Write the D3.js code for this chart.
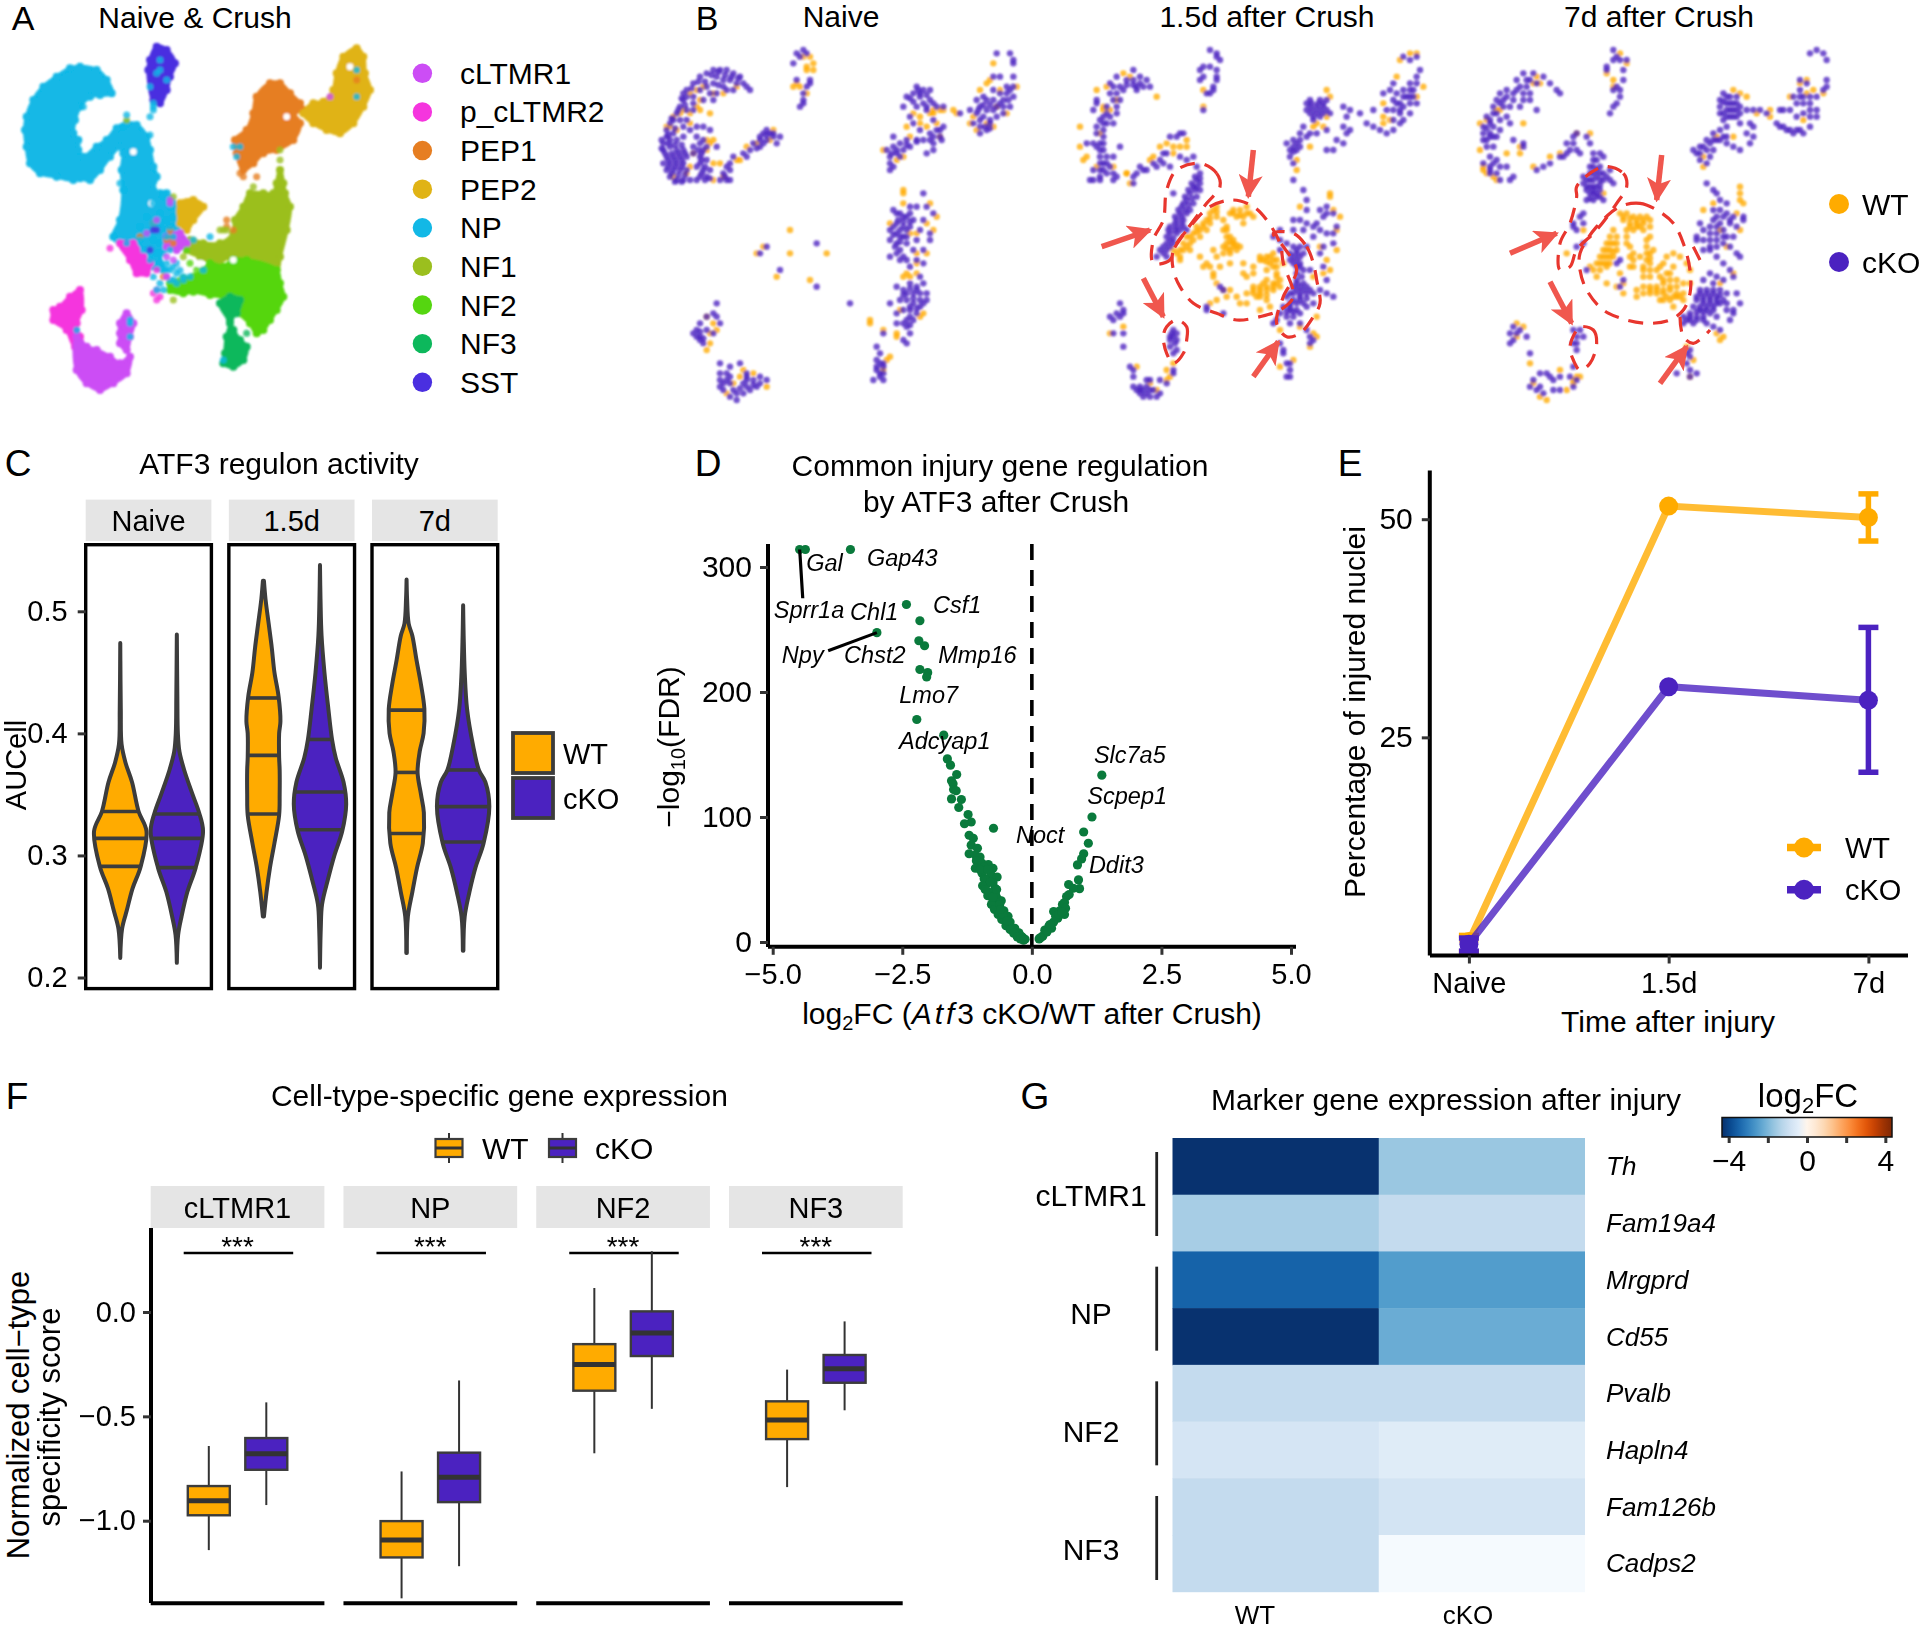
<!DOCTYPE html>
<html>
<head>
<meta charset="utf-8">
<script src="https://cdn.jsdelivr.net/npm/d3@7"></script>
<style>
body { margin: 0; background: #fff; }
text { font-family: "Liberation Sans", Arial, sans-serif; fill: #000; }
</style>
</head>
<body>
<script>
var wtColor = "#FFAB00";
var koColor = "#4B22C0";
var groups = ["WT", "cKO"];

// panel A (embedding units)
var cellTypes = ["cLTMR1", "p_cLTMR2", "PEP1", "PEP2", "NP", "NF1", "NF2", "NF3", "SST"];
var cellColors = ["#CC4DF5", "#F535DE", "#E67E22", "#E0B315", "#12B8E6", "#9BBF1E", "#55D610", "#0DB85C", "#4A2FE0"];
var outlineNP = [[21,11],[26,12],[29,15],[30.5,19],[27,19.5],[24,20],[21,23],[19.5,27],[19,31],[20.5,33],[20.5,36],[22,38],[26,35],[29,33],[32,29.5],[35,28],[38,28.5],[41,32],[42,36],[43,41],[44,44],[43,48],[45,49],[47,49],[50,53],[50,60],[48,65],[45,67],[46,72],[43,71],[41,66],[38,65],[34,65],[31,62],[33,57],[34,48],[33.5,42],[34,37],[33,35],[30,38],[27,42],[24,45],[21,44.5],[19,45],[14,44],[9,43],[6,40],[5,35],[4.5,30],[5,26],[7,21],[10,17],[14,14],[18,11.5]];
var outlineNF1 = [[70,53],[72,49],[76,49],[79,49],[80,46],[81,42],[82,46],[82.5,49],[84,53],[83,60],[81,68],[80,72],[72,69],[66,68],[62,70],[57,68],[53,66],[54,63],[58,64],[63,64],[67,61],[67.5,57]];
var outlineNF2 = [[80,72],[81,76],[82,80],[80,84],[78,87],[76,90],[74,91],[72,88],[69,85],[68,81],[64,80],[60,79.5],[55,78.5],[52,79],[48,78],[48,76],[52,74.5],[55,74],[58,72],[60,70],[64,71],[67,69],[71,69]];
var outlineNF3 = [[63,82],[66,80],[69,81],[68,85],[66,87],[67,90],[69,93],[71,95],[70,99],[67,101],[64,100],[64.5,97],[65,92],[66,88]];
var outlinePEP1 = [[78,16],[81,16],[84,19],[87,22],[88,24],[85,25],[87,28],[85,33],[80,36],[76,37],[73,40],[70,42],[68,37],[67.5,33],[71,30],[73,25],[74,20]];
var outlinePEP2 = [[104,5.5],[106,8],[106.5,13],[108,18],[106,23],[103,28],[99,31],[95,30],[91,28],[88,25],[91,22],[94,21.5],[97,18],[98,13],[100,8]];
var outlinePEP2b = [[51,52],[55,51],[58,53],[55,57],[53,60],[51,58]];
var outlineSST = [[44,5],[47,6],[49.5,10],[48,14],[47,18],[45,22],[43,21],[41.5,12],[42,9]];
var outlineP2a = [[21,78],[21.5,84],[20,88],[21,92],[22,95],[19.5,95],[17,90],[13,87],[13,84],[15,83],[18,80]];
var outlineP2b = [[33,64],[37,64],[40,68],[42,70],[41,73],[38,73],[36,69]];
var outlineC1a = [[20,92],[23,95],[26,96],[30,98],[33,100],[36,98],[35,103],[31,106],[27,108],[23,106],[20,102]];
var outlineC1b = [[33,88],[35,85],[37,88],[36,92],[35,96],[33,94],[33,91]];
var outlineC1c = [[47,62],[51,61],[53,64],[50,66],[47,65]];
var umapGaps = [[102,11],[83,26],[42.5,52],[57,70],[51,71],[67,69],[37,36.5]];
var straysNP = [[35,25.5],[34,29],[42,31.5],[42,26],[43,24],[42,17],[43,22],[43,23],[22,23],[33,46],[34,48],[43,52],[46,49],[46,50],[48,53],[45,55],[47,57],[49,56],[41,56],[43,58],[45,58],[39,59],[41,61],[43,60],[46,60],[48,59],[39,63],[43,63],[45,64],[47,62],[49,62],[40,66],[44,67],[46,67],[48,66],[42,69],[45,70],[47,70],[48,72],[50,73],[52,74],[54,74],[52,75],[48,75],[50,70],[44,78],[46,78],[45,76],[55,63],[60,62],[35,64],[31,62],[36,87],[20,90],[67,35],[69,35],[68,38],[36,88],[36,92],[64,99],[43,74],[50,76],[58,72],[44,13],[45,12],[47,15],[45,9],[104,12],[104,20],[49,75],[51,72],[47,72],[49,71]];
var straysP2 = [[30,65.5],[44,78],[45,80],[44,81],[43,79],[44,72],[40,72],[47,74]];
var straysC1 = [[48,51],[48,52],[47,68],[49,69],[44,57],[41,61],[47,74],[96,20]];
var straysPEP1 = [[39,62],[48,60],[48,62],[47,63],[49,64],[65,59],[67,60],[69,43],[70,44],[74,44],[65,57],[46,74],[43,58],[104,15]];
var straysNF1 = [[81,36],[81,39],[81,42],[73,47],[64,60],[65,60],[63,60],[55,63],[54,66],[52,68],[49,81],[35,27],[49,50]];
var straysNF2 = [[57,76],[53,77],[55,75],[60,76],[53,66],[54,70],[56,72]];
var straysNF3 = [[66,92],[71,91]];
var straysSST = [[43,60],[42,66],[44,60]];

// panel B, three conditions
var naiveWT = [[16,17],[14,18],[15,21],[19,19],[26,17],[22,19],[12,19],[9,25],[7,26],[10,24],[12,25],[6,29],[5,29],[8,30],[12,28],[17,33],[18,34],[19,33],[17,36],[13,37],[11,43],[12,41],[7,44],[19,40],[21,40],[26,39],[27,39],[29,35],[32,34],[37,30],[22,44],[19,45],[36,33],[15,24],[18,25],[14,23],[47,11],[49,10],[47,12],[49,12],[48,8],[45,17],[43,17],[47,19],[44,16],[46,8],[103,10],[102,15],[101,16],[99,18],[105,18],[110,17],[104,23],[107,25],[97,26],[96,28],[98,30],[101,28],[103,29],[91,24],[92,25],[88,24],[85,24],[79,25],[85,25],[87,24],[77,29],[81,28],[83,29],[86,28],[81,26],[87,32],[70,36],[76,38],[74,39],[78,32],[84,25],[76,49],[76,48],[76,52],[84,52],[86,56],[85,60],[72,58],[83,58],[80,61],[78,61],[83,67],[80,67],[80,70],[77,73],[78,74],[80,73],[76,74],[75,84],[82,85],[66,87],[66,88],[70,90],[74,91],[74,92],[81,86],[71,99],[72,98],[70,102],[42,60],[32,67],[42,67],[53,67],[38,74],[48,75],[34,65],[17,86],[19,88],[18,91],[18,94],[17,96],[20,90],[27,104],[25,106],[35,107],[23,109],[31,103],[28,102]];
var naiveKO = [[21,12],[23,12],[25,13],[27,14],[28,16],[29,17],[30,18],[19,12],[17,13],[15,14],[13,16],[11,18],[10,19],[20,14],[22,15],[24,15],[26,16],[22,17],[25,18],[19,16],[17,17],[18,19],[15,18],[13,20],[11,20],[10,21],[13,22],[16,21],[19,21],[20,19],[23,18],[9,23],[8,25],[7,27],[6,28],[5,30],[9,27],[11,24],[11,27],[13,24],[10,29],[7,31],[5,32],[4,34],[4,36],[6,33],[8,33],[10,32],[12,30],[14,29],[16,29],[18,30],[14,32],[15,34],[13,35],[16,33],[6,35],[8,36],[10,36],[5,38],[7,38],[9,38],[11,38],[4,40],[6,40],[8,40],[10,40],[5,42],[7,42],[9,42],[11,42],[6,44],[8,45],[10,45],[12,45],[14,41],[15,38],[13,37],[15,40],[16,42],[17,44],[15,44],[14,45],[18,42],[17,39],[16,36],[17,35],[20,35],[23,41],[24,40],[22,43],[21,45],[23,45],[24,45],[25,38],[28,37],[30,36],[31,34],[33,33],[34,31],[35,30],[36,31],[37,32],[39,32],[35,33],[38,34],[33,35],[29,38],[46,6],[45,8],[43,10],[44,7],[47,7],[48,15],[47,17],[48,16],[46,19],[46,21],[45,23],[46,22],[44,15],[104,7],[108,7],[109,9],[109,10],[103,14],[105,14],[109,14],[107,17],[109,17],[107,19],[105,19],[103,18],[100,20],[98,21],[101,21],[103,21],[105,22],[99,23],[101,24],[103,24],[106,23],[108,23],[100,26],[102,27],[104,26],[106,25],[96,24],[98,25],[97,28],[99,29],[101,30],[99,31],[102,28],[109,20],[93,25],[80,17],[82,18],[84,18],[79,19],[77,20],[81,20],[84,21],[85,22],[76,23],[82,22],[80,23],[83,24],[78,26],[88,23],[85,27],[79,28],[81,30],[84,31],[86,30],[88,29],[82,33],[80,33],[84,33],[87,32],[85,34],[83,37],[85,36],[77,33],[75,34],[73,35],[71,36],[72,38],[74,37],[76,36],[78,35],[73,32],[72,40],[73,41],[75,38],[72,42],[82,49],[73,54],[75,55],[78,53],[80,53],[83,53],[85,55],[77,56],[79,57],[82,57],[74,58],[76,59],[78,59],[72,60],[74,61],[76,62],[81,60],[84,61],[72,63],[74,64],[77,64],[80,63],[84,63],[75,66],[79,66],[82,66],[72,68],[75,69],[77,69],[80,69],[82,70],[78,71],[81,74],[78,76],[80,77],[82,76],[74,77],[76,78],[79,79],[81,79],[83,79],[75,81],[77,81],[79,82],[81,83],[83,81],[76,84],[78,84],[80,85],[77,87],[79,87],[77,89],[78,91],[76,93],[77,94],[72,82],[74,85],[74,88],[70,91],[68,95],[69,97],[68,99],[69,100],[70,101],[68,102],[70,103],[69,104],[67,105],[70,105],[35,65],[33,67],[50,64],[39,72],[50,77],[60,82],[20,82],[20,86],[17,86],[15,88],[14,90],[15,92],[17,90],[13,91],[16,94],[19,91],[15,93],[21,88],[19,85],[21,103],[21,105],[21,107],[23,103],[24,104],[22,108],[25,108],[28,106],[29,104],[31,105],[33,104],[35,105],[26,109],[28,109],[30,108],[32,107],[24,110],[26,111],[29,103],[22,106],[21,100],[24,101],[27,100]];
var naiveKOCore = [[18.5,13.5],[20.5,12.5],[22.5,13.5],[24.5,14],[26.5,14.5],[14.5,15.5],[12.5,17.5],[16.5,15.5],[20.5,16.5],[9.5,20.5],[10.5,22.5],[8.5,24],[6.5,26.5],[5.5,31.5],[7.5,29.5],[3.5,33],[3.5,35.5],[5.5,34],[7.5,34.5],[9.5,34.5],[4.5,37],[6.5,37],[8.5,37],[10.5,37],[5.5,39],[7.5,39],[9.5,39],[5.5,41],[7.5,41],[9.5,41],[6.5,43],[8.5,43.5],[10.5,43.5],[7.5,45.5],[9.5,45.5],[14.5,36],[15.5,37],[15.5,39],[16.5,41],[15.5,43],[16.5,45],[18,44.5],[33,32],[35,31.5],[37,31],[32,35.5],[34,34],[24,42],[22.5,44],[80.5,18],[83,19.5],[81,19],[78,20.5],[79,21.5],[83,23],[86,23],[74,36],[72.5,37],[77,34.5],[80,33.5],[85,32],[87,30],[87.5,33],[102,22.5],[104,23],[106,21],[108,18],[107.5,21],[100,22.5],[98.5,24],[99,27],[100.5,29],[102,29.5],[74,55],[76,56],[78,55],[74.5,57],[76,57.5],[78,57.5],[73,59],[75,60],[77,60],[73,61.5],[75,62],[77,62],[73.5,65],[75,63.5],[76,68],[74,67],[76,79.5],[78,77.5],[80,78],[79,80.5],[81,81],[78,83],[80,83.5],[82,82],[77,79],[78,86],[78,88.5],[76,88],[70,100],[68,101],[69,103],[15,90.5],[14,92],[16,92.5],[27,107.5],[29,107],[31,106.5],[33,106],[24,106],[23,105],[29,105]];
var crush15WT = [[11,18],[14,17],[19,13],[21,14],[29,20],[17,21],[15,24],[13,23],[6,29],[6,35],[8,38],[7,39],[12,31],[11,41],[16,41],[20,43],[21,46],[13,24],[30,35],[32,34],[34,35],[36,35],[38,35],[34,37],[38,33],[28,38],[20,43],[27,39],[43,18],[43,23],[47,53],[45,55],[46,54],[44,57],[47,56],[43,58],[45,58],[42,60],[44,60],[41,59],[40,61],[42,62],[38,62],[40,63],[37,64],[38,65],[36,66],[39,66],[35,67],[36,68],[36,69],[34,66],[52,54],[54,54],[55,56],[57,55],[51,55],[53,56],[56,53],[58,56],[55,58],[49,57],[50,59],[50,60],[49,60],[51,62],[52,63],[50,64],[52,64],[53,66],[51,66],[49,65],[54,65],[51,67],[46,66],[49,67],[42,68],[47,68],[48,71],[44,70],[43,71],[45,71],[46,73],[46,74],[51,70],[55,70],[58,71],[61,69],[55,73],[58,73],[56,74],[60,68],[62,68],[64,67],[63,70],[65,69],[67,70],[64,71],[65,73],[62,72],[66,75],[64,76],[62,75],[60,77],[58,78],[56,79],[58,79],[60,79],[62,78],[64,77],[66,77],[60,80],[62,81],[65,74],[47,76],[49,78],[51,78],[53,80],[50,80],[54,82],[60,84],[56,82],[47,81],[45,82],[63,83],[81,49],[81,50],[82,54],[84,56],[83,60],[83,66],[78,65],[80,69],[72,53],[76,74],[81,72],[79,73],[77,86],[72,89],[66,90],[102,9],[105,7],[107,7],[101,14],[107,20],[109,17],[97,26],[97,28],[99,27],[97,22],[80,18],[81,20],[80,26],[76,29],[77,28],[71,39],[71,42],[79,29],[75,35],[15,91],[19,89],[23,101],[32,102],[33,104],[32,105],[29,108],[34,100],[27,106],[70,99],[66,101],[76,91],[77,92],[75,95]];
var crush15WTCore = [[47,54.5],[45,56.5],[43,59],[41,60.5],[39,62],[39,64],[37,66],[52,55],[54,55.5],[56,55],[50,62],[51,63.5],[52,65],[53,64.5],[50,65.5],[62,69.5],[64,69],[63,68],[60,69],[65,71],[62,77],[60,78],[58,77],[64,78],[62,79.5],[65,76],[61,76],[59,80]];
var crush15KO = [[22,12],[24,14],[26,15],[27,17],[20,15],[17,14],[15,16],[16,17],[18,17],[22,15],[23,17],[25,17],[19,18],[17,19],[15,19],[23,18],[16,21],[18,21],[17,23],[14,23],[17,25],[15,26],[11,21],[11,22],[10,24],[12,27],[14,28],[16,28],[13,30],[11,29],[13,32],[10,34],[12,34],[8,34],[11,35],[13,36],[12,38],[14,38],[16,38],[13,40],[15,41],[10,42],[12,42],[14,43],[16,43],[17,44],[10,45],[12,45],[9,45],[16,45],[18,35],[22,44],[23,43],[25,42],[26,42],[24,41],[22,46],[28,40],[33,32],[35,32],[36,31],[37,31],[32,37],[31,37],[30,39],[36,38],[38,39],[40,38],[29,41],[31,40],[33,41],[45,6],[47,7],[47,8],[48,9],[43,11],[42,12],[43,14],[42,15],[45,11],[47,12],[47,15],[46,17],[46,18],[45,19],[43,24],[47,14],[44,19],[41,41],[42,43],[41,45],[42,46],[40,47],[42,48],[39,49],[41,50],[38,51],[40,52],[37,52],[39,54],[36,55],[38,55],[35,57],[37,57],[35,59],[37,59],[33,59],[33,61],[35,61],[38,60],[33,63],[31,65],[33,65],[31,67],[32,68],[29,68],[34,49],[48,77],[49,78],[44,83],[44,84],[49,85],[64,62],[66,63],[68,64],[70,65],[72,65],[69,67],[71,67],[73,67],[71,69],[72,71],[69,69],[71,73],[71,75],[73,72],[72,77],[70,77],[72,79],[74,79],[76,79],[69,79],[70,81],[72,81],[74,77],[78,78],[80,79],[82,80],[68,80],[67,83],[69,84],[71,84],[72,85],[66,85],[68,86],[70,86],[74,83],[76,82],[65,87],[69,83],[73,48],[74,51],[74,54],[78,54],[80,53],[82,55],[79,56],[83,59],[80,55],[70,57],[72,57],[74,58],[76,59],[78,60],[80,61],[82,61],[73,60],[77,58],[76,62],[82,64],[70,60],[74,65],[79,65],[75,72],[78,67],[79,71],[66,60],[66,66],[80,75],[74,90],[69,88],[72,88],[64,88],[103,8],[105,9],[107,8],[108,12],[107,14],[105,16],[107,16],[103,18],[105,18],[101,19],[99,18],[97,19],[100,21],[102,22],[104,20],[106,18],[98,24],[100,24],[102,25],[100,16],[100,27],[103,27],[105,25],[92,28],[94,29],[96,30],[98,31],[100,30],[102,28],[107,22],[74,22],[75,23],[77,23],[79,23],[75,25],[77,25],[79,25],[81,25],[75,21],[78,21],[80,21],[76,27],[85,23],[87,24],[90,25],[86,26],[94,24],[73,29],[72,31],[70,33],[68,34],[70,35],[72,33],[74,32],[71,36],[69,36],[75,31],[77,31],[80,30],[87,30],[86,31],[85,34],[83,33],[82,36],[80,36],[85,29],[69,38],[70,40],[70,45],[18,82],[19,84],[17,85],[15,86],[18,86],[19,85],[16,87],[16,91],[19,91],[19,95],[34,90],[34,92],[33,93],[35,93],[33,95],[34,97],[35,96],[21,101],[22,102],[22,104],[32,106],[34,102],[34,103],[24,107],[26,107],[28,108],[23,108],[24,109],[25,110],[27,110],[30,109],[22,107],[26,105],[30,105],[27,105],[66,94],[67,96],[67,97],[68,100],[69,100],[69,102],[69,104],[68,104],[75,92],[75,94],[76,93]];
var crush15KOCore = [[40.5,44],[39.5,46],[38.5,48],[40.5,48],[37.5,50],[39.5,50.5],[36.5,53],[38.5,52.5],[35.5,54],[37.5,54],[34.5,56],[36.5,56],[34.5,58],[36.5,58],[32.5,60],[34.5,60],[36,60],[32,62],[34,62.5],[32,64],[34,64],[30,66],[32,66],[42,44.5],[41,47],[71,66],[70,68],[72,68],[72,70],[70,70],[71,71],[72.5,74],[71,76],[73,76],[71,78],[73,78],[75,78],[70,79],[72,80],[74,80.5],[71,82],[73,82],[69,82],[68,84.5],[70,84.5],[20,16.5],[22,16.5],[24,16],[13,26],[14,25],[13,28],[11,31],[13,34],[12,36],[14,40],[12,40],[13,42],[12,44],[74,24],[76,24],[78,24],[80,24],[75.5,22],[77.5,22],[79,22],[76,26],[78,26],[71,34],[70,36.5],[72,35],[101,22],[103,23],[105,20],[106,20],[103,20],[105,22],[102,24],[33.5,91],[34.5,94],[33,92],[35,91],[25,108],[27,108],[29,110],[26,109],[24,108]];
var crush7WT = [[26,14],[27,16],[25,16],[14,24],[11,27],[9,28],[15,24],[22,28],[9,36],[10,41],[10,42],[11,43],[13,44],[14,45],[17,37],[21,35],[21,37],[25,41],[38,31],[42,31],[30,38],[33,37],[51,7],[53,10],[47,13],[49,15],[49,17],[40,60],[46,49],[35,67],[51,55],[53,55],[55,56],[57,56],[59,56],[60,57],[52,57],[54,58],[56,58],[58,58],[60,59],[53,60],[55,60],[57,59],[58,60],[53,62],[50,62],[49,60],[48,62],[47,64],[49,64],[53,64],[54,65],[46,66],[48,66],[50,66],[55,67],[45,68],[47,68],[49,68],[54,68],[44,70],[46,70],[48,70],[55,69],[57,68],[43,72],[45,72],[47,70],[59,65],[60,67],[59,69],[60,70],[58,71],[60,72],[58,72],[60,74],[59,63],[61,66],[42,71],[44,74],[67,67],[65,68],[69,68],[64,70],[63,71],[71,70],[62,72],[63,74],[72,72],[67,71],[65,73],[66,75],[68,75],[70,76],[72,76],[64,76],[62,77],[60,77],[58,77],[56,78],[58,79],[60,79],[62,79],[64,79],[66,78],[68,79],[70,79],[56,80],[64,81],[66,81],[68,80],[70,81],[67,83],[63,81],[52,76],[52,79],[47,76],[50,77],[51,73],[54,71],[55,71],[60,62],[87,47],[87,49],[87,51],[88,52],[86,55],[87,60],[81,60],[83,65],[85,73],[81,76],[80,91],[82,92],[81,93],[79,52],[76,54],[107,19],[109,18],[102,20],[105,16],[107,15],[112,19],[106,27],[85,18],[87,19],[89,20],[80,32],[85,32],[76,38],[92,25],[96,24],[96,26],[76,41],[20,88],[22,89],[20,92],[24,100],[33,102],[35,108],[37,106],[38,104],[29,111],[27,110],[25,106],[37,105],[39,104],[71,95],[73,99],[72,104]];
var crush7WTCore = [[52,56],[54,56.5],[56,57],[58,57],[54,59],[56,59],[50,64],[48,64],[47,66],[49,66.5],[46,68],[48,68],[45,70],[47,71],[59,67],[60,68.5],[64,78],[66,77],[68,77],[62,78],[60,78],[65,80],[67,80],[69,80],[64,75],[66,73],[58,74]];
var crush7KO = [[25,13],[22,13],[20,15],[28,14],[30,16],[32,18],[33,19],[24,15],[26,16],[23,17],[20,18],[17,18],[15,19],[24,19],[22,21],[19,21],[16,21],[14,21],[13,23],[18,23],[21,23],[24,21],[16,23],[14,25],[11,26],[12,28],[15,27],[13,29],[10,29],[17,26],[10,31],[12,31],[14,32],[10,33],[15,30],[18,28],[11,35],[13,35],[12,38],[14,39],[10,40],[12,41],[15,41],[17,41],[12,43],[14,43],[15,45],[18,45],[19,44],[26,24],[19,33],[22,34],[22,35],[26,42],[28,41],[30,40],[33,38],[35,34],[36,36],[35,37],[37,34],[38,36],[39,37],[34,38],[37,32],[42,34],[43,37],[44,39],[45,37],[46,38],[38,31],[41,32],[42,41],[49,6],[50,8],[51,9],[53,9],[49,9],[47,11],[47,12],[52,12],[52,15],[50,17],[51,18],[49,18],[51,20],[50,22],[49,23],[48,25],[42,43],[44,42],[40,44],[42,45],[44,44],[46,45],[40,46],[42,47],[44,47],[46,43],[48,45],[41,48],[43,49],[45,48],[48,42],[43,51],[41,51],[44,50],[46,51],[40,55],[39,56],[40,58],[38,60],[37,59],[37,58],[40,64],[38,65],[43,39],[45,41],[49,46],[43,41],[51,69],[50,70],[52,75],[41,72],[51,77],[79,54],[81,54],[83,55],[85,56],[83,52],[81,51],[79,57],[81,58],[78,59],[84,58],[86,59],[80,61],[83,62],[88,56],[75,58],[76,60],[74,62],[76,63],[74,63],[78,63],[85,62],[82,64],[84,65],[76,66],[78,66],[86,67],[80,68],[82,70],[84,72],[87,68],[78,73],[80,74],[82,75],[76,75],[79,76],[75,78],[77,78],[79,78],[81,78],[83,79],[85,74],[86,79],[87,82],[83,82],[85,84],[85,85],[76,80],[78,80],[80,80],[74,81],[76,82],[78,82],[80,82],[73,83],[75,84],[77,84],[79,84],[72,85],[74,86],[76,86],[70,86],[72,87],[70,88],[73,88],[77,88],[80,86],[79,89],[81,90],[83,84],[84,87],[77,46],[79,48],[80,49],[88,57],[108,7],[110,6],[112,7],[113,9],[105,15],[107,16],[105,18],[103,20],[106,20],[108,20],[104,22],[110,20],[113,17],[113,15],[112,18],[108,24],[110,24],[106,25],[108,26],[98,28],[100,29],[102,30],[104,30],[106,31],[108,29],[110,26],[104,26],[100,24],[82,19],[84,20],[86,20],[81,21],[83,22],[85,22],[87,23],[81,23],[84,24],[86,24],[89,24],[91,24],[93,24],[95,25],[82,25],[87,25],[85,26],[82,27],[79,31],[81,30],[83,32],[81,33],[79,33],[77,33],[75,35],[73,36],[75,37],[77,36],[79,36],[83,34],[85,35],[87,36],[75,39],[77,40],[78,38],[91,29],[89,31],[91,32],[90,34],[87,28],[90,28],[99,24],[102,24],[83,29],[19,89],[18,91],[20,91],[21,90],[19,93],[18,94],[23,92],[37,90],[39,90],[38,92],[40,92],[38,94],[38,96],[37,94],[24,97],[27,103],[29,103],[25,105],[24,107],[27,107],[26,108],[28,109],[31,108],[33,108],[37,107],[38,105],[36,104],[33,104],[37,101],[30,104],[31,105],[72,96],[72,98],[71,100],[72,102],[74,103],[72,104],[68,103],[71,97]];
var crush7KOCore = [[43,43],[45,43],[41,45],[43,45],[45,45],[47,44],[41,47],[43,47],[45,46.5],[43,48],[42,49],[44,49],[42,50.5],[45,50],[75,79],[77,79],[79,79],[81,79.5],[74,80],[76,81],[78,81],[80,81],[82,81],[75,83],[77,83],[79,83],[81,82],[74,84.5],[76,84.5],[78,85],[72,86],[74,87],[76,87],[71,87],[23,15],[21,17],[19,19],[22,19],[17,20],[15,22],[13,25],[12,27],[11,29.5],[12,32],[11,33],[13,32],[12,42],[13,40],[83,20],[82,21.5],[84,22],[86,22],[83,24],[85,24],[84,26],[81,25],[83,26],[86,26],[76,35],[78,34],[80,33],[82,32],[74,37],[108,22],[106,22],[105,20],[99,29],[101,30],[103,31],[105,30],[80,56],[82,56],[84,57],[78,61],[80,59],[82,60],[80,63],[82,62],[78,65],[80,65]];
// red annotations on the embedding
var rings15 = [[[42,40],[47,43],[48,47],[44,52],[38,60],[34,66],[33,69],[28,70],[28,63],[31,57],[32,48],[35,42]],[[45,53],[52,51],[58,53],[62,57],[66,64],[67,70],[70,80],[66,84],[60,86],[53,87],[47,85],[40,82],[36,77],[34,72],[34,66],[39,59]],[[70,61],[74,65],[76,70],[77,75],[78,82],[76,86],[72,91],[68,92],[65,88],[67,80],[71,72],[67,65],[64,61]],[[35,87],[38,89],[38,93],[37,97],[34,100],[32,97],[31,92],[32,89]]];
var rings7 = [[[46,41],[52,43],[53,47],[50,52],[44,60],[38,66],[36,71],[33,72],[33,64],[36,58],[38,50],[38,47]],[[51,53],[57,52],[62,54],[67,58],[70,64],[72,72],[72,79],[70,84],[66,87],[60,88],[53,87],[46,84],[41,78],[39,72],[39,67],[44,59]],[[39,89],[43,90],[44,94],[42,100],[39,102],[37,99],[36,95],[38,90]]];
var openRing7 = [[73,65],[75,69]];
var openRing7b = [[69,86],[70,92],[73,94],[78,90]];
var arrows15 = [[12.5,65,27,60],[58,36,56.5,50],[25,74.5,31,86],[58,104,65.5,93.5]];
var arrows7 = [[18,67,32,61],[63.5,37.5,62,51],[30,75.5,36.5,88],[63,106,71,95]];

// panel C, violin outlines as [value, relative width]
var violinFacets = ["Naive", "1.5d", "7d"];
var violinNaiveWT = [[.216,0],[.24,.07],[.255,.25],[.273,.47],[.291,.78],[.32,1],[.336,.7],[.36,.45],[.376,.2],[.391,.05],[.42,.02],[.474,0]];
var violinNaiveKO = [[.212,0],[.235,.05],[.25,.18],[.27,.4],[.29,.72],[.32,1],[.335,.85],[.35,.6],[.37,.28],[.385,.1],[.40,.04],[.43,.02],[.481,0]];
var violin15WT = [[.25,.02],[.27,.12],[.29,.25],[.31,.42],[.333,.6],[.35,.62],[.37,.62],[.38,.6],[.40,.6],[.41,.65],[.43,.58],[.45,.42],[.47,.32],[.49,.2],[.51,.08],[.525,.02]];
var violin15KO = [[.208,0],[.24,.03],[.26,.08],[.28,.3],[.30,.55],[.32,.85],[.342,1],[.36,.9],[.38,.6],[.395,.46],[.42,.32],[.45,.17],[.48,.06],[.51,.02],[.538,0]];
var violin7WT = [[.22,.01],[.25,.05],[.27,.22],[.29,.4],[.31,.62],[.335,.66],[.35,.55],[.368,.42],[.385,.5],[.40,.65],[.42,.68],[.44,.55],[.46,.38],[.48,.22],[.49,.08],[.51,.02],[.526,0]];
var violin7KO = [[.222,.01],[.25,.06],[.27,.24],[.29,.47],[.31,.78],[.34,1],[.36,.85],[.37,.6],[.39,.38],[.42,.15],[.45,.06],[.48,.02],[.505,0]];
var quartilesNaiveWT = [.336,.314,.291];
var quartilesNaiveKO = [.334,.314,.290];
var quartiles15WT = [.429,.382,.334];
var quartiles15KO = [.395,.352,.321];
var quartiles7WT = [.419,.368,.318];
var quartiles7KO = [.370,.340,.311];

// panel D
var volcanoPoints = [[-4.48,314],[-4.37,314],[-3.5,314],[-2.42,270],[-2.16,257],[-2.18,241],[-2.07,237],[-2.16,218],[-2.01,215.5],[-2.03,212],[-2.22,178],[-2.99,247.5],[-1.7,165.5],[-1.63,146.5],[-1.57,141.5],[-1.45,134],[-1.55,129],[-1.52,126.6],[-1.51,122],[-1.46,121],[-1.55,114.5],[-1.36,114],[-1.41,107.6],[-1.23,102],[-1.17,96],[-1.3,94.6],[-.74,91],[-1.21,85.4],[-1.13,83],[-1.17,77.5],[-1.05,75],[-1.21,70.6],[-1.09,69.6],[-1,68],[-1.07,65],[-.96,63],[-.84,62],[-.75,59],[-1.09,59],[-.92,60],[-.96,55],[-.79,54],[-.67,52],[-.92,50.6],[-.75,47.5],[-.88,46],[-.71,43],[-.84,40],[-.67,35],[-.75,33],[-.59,33],[-.67,28.5],[-.54,25],[-.63,24],[-.46,20.6],[-.54,19],[-.42,16],[-.46,14],[-.33,11],[-.38,9.5],[-.25,7.3],[-.29,6.3],[-.18,3.8],[-.13,2.2],[-.21,4.7],[-1,58],[-.9,50],[-.95,45],[-.85,37],[-.78,30],[-.72,26],[-.65,22],[-.58,18],[-.5,13],[-.42,10],[-.35,7],[-.28,4],[-.22,2.5],[-.16,1.5],[-.85,58],[-.8,48],[-.7,38],[-.62,30],[-.55,22],[-.9,42],[-.75,36],[-.68,42],[-.6,26],[-.48,17],[1.35,133.5],[1.16,100],[1,88],[1.09,79],[1,70.6],[.96,66.5],[.88,61.7],[.9,49.7],[.92,42.7],[.71,46],[.8,43],[.67,36.4],[.59,30],[.42,24.4],[.63,22],[.5,19],[.42,16],[.33,12.7],[.25,9.5],[.21,4.7],[.14,2.5],[.54,25],[.38,11],[.29,8],[.46,20.6],[.63,31.6],[.17,3.5],[.72,38],[.65,27],[.52,22],[.35,14],[.58,24]];
var geneNames = ["Gal","Gap43","Sprr1a","Chl1","Csf1","Npy","Chst2","Mmp16","Lmo7","Adcyap1","Slc7a5","Scpep1","Noct","Ddit3"];
var geneLogFC = [-4.0,-2.5,-4.3,-3.04,-1.44,-4.42,-3.03,-1.05,-1.99,-1.68,1.89,1.84,.16,1.63];
var geneFDR = [303,307.6,265.5,264,270,230,230,230,198,161,149.7,116.8,86,62];
var geneLeaders = [[-4.48,314,-4.42,275],[-2.99,247.5,-3.93,233]];

// panel E
var timePoints = ["Naive", "1.5d", "7d"];
var injuredWT = [1.6, 51.5, 50.2];
var injuredKO = [1.3, 30.8, 29.25];
var injuredWTLow = [.4, 51.5, 47.5];
var injuredWTHigh = [2.3, 51.5, 52.9];
var injuredKOLow = [.5, 30.8, 21];
var injuredKOHigh = [2, 30.8, 37.6];

// panel F, one entry per facet
var boxFacets = ["cLTMR1", "NP", "NF2", "NF3"];
var boxWT = [[-1.141,-.974,-.904,-.834,-.642],[-1.372,-1.176,-1.092,-1.002,-.764],[-.677,-.377,-.251,-.154,.115],[-.839,-.609,-.517,-.428,-.276]];
var boxKO = [[-.925,-.756,-.679,-.604,-.433],[-1.218,-.911,-.792,-.674,-.328],[-.464,-.211,-.101,.003,.291],[-.471,-.339,-.272,-.206,-.045]];

// panel G
var heatGenes = ["Th","Fam19a4","Mrgprd","Cd55","Pvalb","Hapln4","Fam126b","Cadps2"];
var heatWT = [-4.3,-1.5,-3.5,-4.3,-1.08,-.74,-1.08,-1.08];
var heatKO = [-1.65,-1.08,-2.5,-2.2,-1.08,-.52,-.78,-.05];
var heatGroups = ["cLTMR1","NP","NF2","NF3"];

var svg = d3.select("body").append("svg").attr("width", 1920).attr("height", 1631);

function label(x, y, str, size, anchor, rotate) {
    var t = svg.append("text")
        .attr("x", x).attr("y", y)
        .attr("dy", "0.35em")
        .attr("font-size", size || 30)
        .attr("text-anchor", anchor || "middle")
        .text(str);
    if (rotate) t.attr("transform", "rotate(" + rotate + "," + x + "," + y + ")");
    return t;
}

function styleAxis(g, size) {
    g.selectAll(".domain").attr("stroke", "#000").attr("stroke-width", 4);
    g.selectAll(".tick line").attr("stroke", "#333").attr("stroke-width", 3);
    g.selectAll(".tick text").attr("font-size", size || 30)
        .attr("font-family", "Liberation Sans").attr("fill", "#000");
}

[["A",23,18,34],["B",707,18,34],["C",18,463,37],["D",708,463,37],["E",1350,463,37],["F",17,1096,37],["G",1035,1096,37]].forEach(function (d) {
    label(d[1], d[2], d[0], d[3]);
});

// ---- A ----
label(195, 17, "Naive & Crush", 30);
label(841, 16, "Naive", 30);
label(1267, 16, "1.5d after Crush", 30);
label(1659, 16, "7d after Crush", 30);

var soft = svg.append("defs").append("filter").attr("id", "soft");
soft.append("feGaussianBlur").attr("stdDeviation", 0.8);

function umapX(x0) { return d3.scaleLinear().domain([0, 120]).range([x0, x0 + 400]); }
var umapY = d3.scaleLinear().domain([0, 114]).range([30, 410]);

var ax = umapX(10);
var blob = d3.line().x(d => ax(d[0])).y(d => umapY(d[1])).curve(d3.curveCatmullRomClosed.alpha(0.5));
var panelA = svg.append("g").attr("filter", "url(#soft)");
var colorOf = d3.scaleOrdinal().domain(cellTypes).range(cellColors);
[["NP", outlineNP], ["NF1", outlineNF1], ["NF2", outlineNF2], ["NF3", outlineNF3], ["PEP1", outlinePEP1], ["PEP2", outlinePEP2],
 ["PEP2", outlinePEP2b], ["SST", outlineSST], ["p_cLTMR2", outlineP2a], ["p_cLTMR2", outlineP2b], ["cLTMR1", outlineC1a],
 ["cLTMR1", outlineC1b], ["cLTMR1", outlineC1c]].forEach(function (d) {
    panelA.append("path").attr("d", blob(d[1]))
        .attr("fill", colorOf(d[0])).attr("stroke", colorOf(d[0])).attr("stroke-width", 4).attr("stroke-linejoin", "round");
    // cells on the rim make the edge bumpy like the reference
    panelA.append("g").selectAll("circle").data(d[1]).enter().append("circle")
        .attr("cx", p => ax(p[0])).attr("cy", p => umapY(p[1])).attr("r", 4).attr("fill", colorOf(d[0]));
});
panelA.selectAll("circle.gap").data(umapGaps).enter().append("circle").attr("class", "gap")
    .attr("cx", d => ax(d[0])).attr("cy", d => umapY(d[1])).attr("r", 3.4).attr("fill", "#fff");
[["PEP1", straysPEP1], ["NF1", straysNF1], ["NF2", straysNF2], ["NF3", straysNF3], ["p_cLTMR2", straysP2], ["NP", straysNP], ["cLTMR1", straysC1], ["SST", straysSST]].forEach(function (d) {
    panelA.append("g").selectAll("circle").data(d[1]).enter().append("circle")
        .attr("cx", p => ax(p[0])).attr("cy", p => umapY(p[1])).attr("r", 3.5)
        .attr("fill", colorOf(d[0])).attr("opacity", 0.8);
});
cellTypes.forEach(function (c, i) {
    var y = d3.scaleLinear().domain([0, 8]).range([73.3, 382.3])(i);
    svg.append("circle").attr("cx", 422.4).attr("cy", y).attr("r", 9.7).attr("fill", cellColors[i]);
    label(460, y, c, 30, "start");
});

// ---- B ----
svg.append("defs").append("marker").attr("id", "head")
    .attr("viewBox", "0 0 10 10").attr("refX", 9).attr("refY", 5)
    .attr("markerWidth", 4.4).attr("markerHeight", 4.4).attr("orient", "auto")
    .append("path").attr("d", "M0,0L10,5L0,10L2.5,5Z").attr("fill", "#F0574E");

function umapPanel(x0, wt, ko, rings, openRings, arrows) {
    var x = umapX(x0);
    var g = svg.append("g").attr("filter", "url(#soft)");
    [[wt, wtColor], [ko, koColor]].forEach(function (s) {
        g.append("g").selectAll("circle").data(s[0]).enter().append("circle")
            .attr("cx", d => x(d[0])).attr("cy", d => umapY(d[1])).attr("r", 3.2)
            .attr("fill", s[1]).attr("opacity", 0.78);
    });
    var ring = d3.line().x(d => x(d[0])).y(d => umapY(d[1])).curve(d3.curveCatmullRomClosed.alpha(0.5));
    var arc = d3.line().x(d => x(d[0])).y(d => umapY(d[1])).curve(d3.curveCatmullRom.alpha(0.5));
    var r = svg.append("g").attr("fill", "none").attr("stroke", "#E8362E")
        .attr("stroke-width", 3.2).attr("stroke-dasharray", "15 10");
    r.selectAll("path.closed").data(rings).enter().append("path").attr("class", "closed").attr("d", ring);
    r.selectAll("path.open").data(openRings).enter().append("path").attr("class", "open").attr("d", arc);
    svg.append("g").selectAll("line").data(arrows).enter().append("line")
        .attr("x1", d => x(d[0])).attr("y1", d => umapY(d[1]))
        .attr("x2", d => x(d[2])).attr("y2", d => umapY(d[3]))
        .attr("stroke", "#F0574E").attr("stroke-width", 5.5).attr("marker-end", "url(#head)");
}
umapPanel(650, naiveWT, naiveKO.concat(naiveKOCore), [], [], []);
umapPanel(1060, crush15WT.concat(crush15WTCore), crush15KO.concat(crush15KOCore), rings15, [], arrows15);
umapPanel(1450, crush7WT.concat(crush7WTCore), crush7KO.concat(crush7KOCore), rings7, [openRing7, openRing7b], arrows7);

groups.forEach(function (g, i) {
    var y = [204, 262][i];
    svg.append("circle").attr("cx", 1839).attr("cy", y).attr("r", 10).attr("fill", i ? koColor : wtColor);
    label(1862, y, g, 30, "start");
});

// ---- C ----
label(279, 463, "ATF3 regulon activity", 30);
var cY = d3.scaleLinear().domain([.2, .5]).range([977.5, 611.3]);
var cFacet = d3.scalePoint().domain(violinFacets).range([85.7, 372]);
var cW = 125.7;
var cInner = d3.scalePoint().domain(groups).range([cW * .275, cW * .725]);
var cWidth = d3.scaleLinear().domain([0, 1]).range([0, 26.2]);
var cViolins = [[violinNaiveWT, violinNaiveKO, quartilesNaiveWT, quartilesNaiveKO], [violin15WT, violin15KO, quartiles15WT, quartiles15KO], [violin7WT, violin7KO, quartiles7WT, quartiles7KO]];

violinFacets.forEach(function (f, i) {
    var x0 = cFacet(f);
    svg.append("rect").attr("x", x0).attr("y", 499.6).attr("width", cW).attr("height", 41.5).attr("fill", "#E5E5E5");
    label(x0 + cW / 2, 521, f, 29);
    svg.append("rect").attr("x", x0).attr("y", 544.7).attr("width", cW).attr("height", 443.9)
        .attr("fill", "none").attr("stroke", "#000").attr("stroke-width", 3.4);
    groups.forEach(function (g, j) {
        var cx = x0 + cInner(g);
        var profile = cViolins[i][j];
        // drawn on its side, then turned upright
        var side = d3.area().curve(d3.curveCatmullRom)
            .x(d => cY(d[0])).y0(d => cWidth(d[1])).y1(d => -cWidth(d[1]));
        svg.append("path").attr("d", side(profile))
            .attr("transform", "translate(" + cx + ",0) rotate(90) scale(1,-1)")
            .attr("fill", j ? koColor : wtColor).attr("stroke", "#3C3C3C").attr("stroke-width", 4)
            .attr("stroke-linejoin", "round");
        var at = d3.scaleLinear().domain(profile.map(d => d[0])).range(profile.map(d => d[1]));
        cViolins[i][j + 2].forEach(function (q) {
            svg.append("line").attr("x1", cx - cWidth(at(q))).attr("x2", cx + cWidth(at(q)))
                .attr("y1", cY(q)).attr("y2", cY(q)).attr("stroke", "#3C3C3C").attr("stroke-width", 3.6);
        });
    });
});
var cAxis = svg.append("g").attr("transform", "translate(85.7,0)")
    .call(d3.axisLeft(cY).tickValues([.2, .3, .4, .5]).tickFormat(d3.format(".1f")).tickSize(8).tickPadding(10));
styleAxis(cAxis, 29);
cAxis.select(".domain").remove();
label(16, 765, "AUCell", 29, "middle", -90);
groups.forEach(function (g, i) {
    var y = [733, 778][i];
    svg.append("rect").attr("x", 513).attr("y", y).attr("width", 40).attr("height", 40)
        .attr("fill", i ? koColor : wtColor).attr("stroke", "#3C3C3C").attr("stroke-width", 3.8);
    label(563, y + 21, g, 29, "start");
});

// ---- D ----
label(1000, 465, "Common injury gene regulation", 30);
label(996, 501, "by ATF3 after Crush", 30);
var dX = d3.scaleLinear().domain([-5, 5]).range([772.7, 1291]);
var dY = d3.scaleLinear().domain([0, 300]).range([942, 567]);
svg.append("line").attr("x1", dX(0)).attr("x2", dX(0)).attr("y1", 544).attr("y2", 947)
    .attr("stroke", "#000").attr("stroke-width", 3.6).attr("stroke-dasharray", "16 10");
svg.append("g").selectAll("circle").data(volcanoPoints).enter().append("circle")
    .attr("cx", d => dX(d[0])).attr("cy", d => dY(d[1])).attr("r", 4.6).attr("fill", "#0A7A3C");
svg.append("g").selectAll("line").data(geneLeaders).enter().append("line")
    .attr("x1", d => dX(d[0])).attr("y1", d => dY(d[1])).attr("x2", d => dX(d[2])).attr("y2", d => dY(d[3]))
    .attr("stroke", "#000").attr("stroke-width", 3.2);
geneNames.forEach(function (g, i) {
    label(dX(geneLogFC[i]), dY(geneFDR[i]), g, 23.5).attr("font-style", "italic");
});
var dBottom = svg.append("g").attr("transform", "translate(0,946.8)")
    .call(d3.axisBottom(dX).tickValues([-5, -2.5, 0, 2.5, 5]).tickFormat(d3.format(".1f")).tickSize(8).tickPadding(9));
styleAxis(dBottom, 29);
dBottom.select(".domain").attr("d", "M768,0H1296");
var dLeft = svg.append("g").attr("transform", "translate(768,0)")
    .call(d3.axisLeft(dY).tickValues([0, 100, 200, 300]).tickSize(8).tickPadding(8));
styleAxis(dLeft, 30);
dLeft.select(".domain").attr("d", "M0,544V947");
var dXLabel = label(1032, 1013, "", 30);
dXLabel.append("tspan").text("log");
dXLabel.append("tspan").text("2").attr("font-size", 20).attr("dy", 6);
dXLabel.append("tspan").text("FC (").attr("dy", -6);
dXLabel.append("tspan").text("Atf").attr("font-style", "italic").attr("letter-spacing", 3);
dXLabel.append("tspan").text("3 cKO/WT after Crush)");
var dYLabel = label(668, 747, "", 30, "middle", -90);
dYLabel.append("tspan").text("\u2212log");
dYLabel.append("tspan").text("10").attr("font-size", 20).attr("dy", 6);
dYLabel.append("tspan").text("(FDR)").attr("dy", -6);

// ---- E ----
var eX = d3.scalePoint().domain(timePoints).range([1468.9, 1868.4]);
var eY = d3.scaleLinear().domain([0, 50]).range([955.5, 519.2]);
var eSeries = [[injuredWT, injuredWTLow, injuredWTHigh, wtColor], [injuredKO, injuredKOLow, injuredKOHigh, koColor]];
var eLine = d3.line().x((d, i) => eX(timePoints[i])).y(d => eY(d));
eSeries.forEach(function (s) {
    svg.append("path").attr("d", eLine(s[0])).attr("fill", "none")
        .attr("stroke", s[3]).attr("stroke-width", 7).attr("opacity", 0.8);
    timePoints.forEach(function (t, i) {
        if (s[1][i] !== s[2][i]) {
            svg.append("line").attr("x1", eX(t)).attr("x2", eX(t)).attr("y1", eY(s[1][i])).attr("y2", eY(s[2][i]))
                .attr("stroke", s[3]).attr("stroke-width", 5.5);
            [s[1][i], s[2][i]].forEach(function (v) {
                svg.append("line").attr("x1", eX(t) - 10).attr("x2", eX(t) + 10).attr("y1", eY(v)).attr("y2", eY(v))
                    .attr("stroke", s[3]).attr("stroke-width", 5.5);
            });
        }
        svg.append("circle").attr("cx", eX(t)).attr("cy", eY(s[0][i])).attr("r", 9.5).attr("fill", s[3]);
    });
});
var eBottom = svg.append("g").attr("transform", "translate(0,955.5)")
    .call(d3.axisBottom(eX).tickSize(8).tickPadding(9));
styleAxis(eBottom, 29);
eBottom.select(".domain").attr("d", "M1430,0H1908");
var eLeft = svg.append("g").attr("transform", "translate(1429.8,0)")
    .call(d3.axisLeft(eY).tickValues([25, 50]).tickSize(8).tickPadding(9));
styleAxis(eLeft, 30);
eLeft.select(".domain").attr("d", "M0,470.6V955.5");
label(1668, 1021, "Time after injury", 30);
label(1354, 712, "Percentage of injured nuclei", 30, "middle", -90);
groups.forEach(function (g, i) {
    var y = [847.5, 889.7][i], col = i ? koColor : wtColor;
    svg.append("line").attr("x1", 1787).attr("x2", 1821).attr("y1", y).attr("y2", y).attr("stroke", col).attr("stroke-width", 7.6);
    svg.append("circle").attr("cx", 1804).attr("cy", y).attr("r", 10).attr("fill", col);
    label(1845, y, g, 29, "start");
});

// ---- F ----
label(499.4, 1095, "Cell-type-specific gene expression", 30);
var fY = d3.scaleLinear().domain([0, -1]).range([1312, 1520.7]);
var fFacet = d3.scalePoint().domain(boxFacets).range([150.7, 729]);
var fW = 173.7;
var fInner = d3.scaleLinear().domain([0, 1]).range([58.1, 115.6]);
boxFacets.forEach(function (f, i) {
    var x0 = fFacet(f);
    svg.append("rect").attr("x", x0).attr("y", 1186).attr("width", fW).attr("height", 42).attr("fill", "#E5E5E5");
    label(x0 + fW / 2, 1208, f, 29);
    svg.append("line").attr("x1", x0).attr("x2", x0 + fW).attr("y1", 1603.3).attr("y2", 1603.3).attr("stroke", "#000").attr("stroke-width", 4);
    svg.append("line").attr("x1", x0 + 33).attr("x2", x0 + 142.5).attr("y1", 1253).attr("y2", 1253).attr("stroke", "#000").attr("stroke-width", 2.6);
    label(x0 + fW / 2, 1246, "***", 28);
    [boxWT[i], boxKO[i]].forEach(function (b, j) {
        var cx = x0 + fInner(j);
        svg.append("line").attr("x1", cx).attr("x2", cx).attr("y1", fY(b[0])).attr("y2", fY(b[4])).attr("stroke", "#333").attr("stroke-width", 2);
        svg.append("rect").attr("x", cx - 21).attr("y", fY(b[3])).attr("width", 42).attr("height", fY(b[1]) - fY(b[3]))
            .attr("fill", j ? koColor : wtColor).attr("stroke", "#3C3C3C").attr("stroke-width", 2.4);
        svg.append("line").attr("x1", cx - 21).attr("x2", cx + 21).attr("y1", fY(b[2])).attr("y2", fY(b[2])).attr("stroke", "#333").attr("stroke-width", 5);
    });
});
var fLeft = svg.append("g").attr("transform", "translate(151,0)")
    .call(d3.axisLeft(fY).tickValues([0, -.5, -1]).tickFormat(d3.format(".1f")).tickSize(8).tickPadding(7));
styleAxis(fLeft, 29);
fLeft.select(".domain").attr("d", "M0,1228V1603");
label(18, 1415, "Normalized cell\u2212type", 31, "middle", -90);
label(49, 1417, "specificity score", 31, "middle", -90);
groups.forEach(function (g, i) {
    var x = [449, 562.5][i], col = i ? koColor : wtColor;
    svg.append("line").attr("x1", x).attr("x2", x).attr("y1", 1133).attr("y2", 1163).attr("stroke", "#333").attr("stroke-width", 2);
    svg.append("rect").attr("x", x - 13.5).attr("y", 1139).attr("width", 27).attr("height", 18).attr("fill", col).attr("stroke", "#3C3C3C").attr("stroke-width", 2.2);
    svg.append("line").attr("x1", x - 13.5).attr("x2", x + 13.5).attr("y1", 1148).attr("y2", 1148).attr("stroke", "#333").attr("stroke-width", 3);
    label([482, 595][i], 1148, g, 30, "start");
});

// ---- G ----
label(1446, 1099, "Marker gene expression after injury", 30);
var gY = d3.scaleBand().domain(heatGenes).range([1138, 1591.7]);
var gX = d3.scaleBand().domain(groups).range([1172.5, 1585]);
var gColor = function (v) {
    return v < 0 ? d3.interpolateBlues(-v / 4.34) : d3.interpolateOranges(v / 4.34);
};
[heatWT, heatKO].forEach(function (vals, j) {
    svg.append("g").selectAll("rect").data(vals).enter().append("rect")
        .attr("x", gX(groups[j])).attr("y", (d, i) => gY(heatGenes[i]))
        .attr("width", gX.bandwidth() + (j ? 0 : 0.6)).attr("height", gY.bandwidth() + 0.5)
        .attr("fill", d => gColor(d));
});
heatGenes.forEach(function (g) {
    label(1606, gY(g) + gY.bandwidth() / 2, g, 26, "start").attr("font-style", "italic");
});
label(1255, 1615, "WT", 26);
label(1468, 1615, "cKO", 26);
var gLabelY = d3.scalePoint().domain(heatGroups).range([1195, 1549]);
var gBarY = d3.scalePoint().domain(heatGroups).range([1194, 1538]);
heatGroups.forEach(function (g) {
    label(1091, gLabelY(g), g, 30);
    svg.append("line").attr("x1", 1156.7).attr("x2", 1156.7).attr("y1", gBarY(g) - 42).attr("y2", gBarY(g) + 42)
        .attr("stroke", "#222").attr("stroke-width", 2.8);
});
var cbX = d3.scaleLinear().domain([-4.34, 4.34]).range([1722, 1892]);
var grad = svg.append("defs").append("linearGradient").attr("id", "cb");
d3.range(-4.34, 4.35, 0.434).forEach(function (v) {
    grad.append("stop").attr("offset", cbX(v) / 170 - 1722 / 170).attr("stop-color", gColor(v));
});
svg.append("rect").attr("x", 1722).attr("y", 1117.5).attr("width", 170).attr("height", 19.5)
    .attr("fill", "url(#cb)").attr("stroke", "#111").attr("stroke-width", 1.5);
var cbAxis = svg.append("g").attr("transform", "translate(0,1137)")
    .call(d3.axisBottom(cbX).tickValues([-4, -2, 0, 2, 4]).tickFormat(v => v % 4 === 0 ? d3.format("d")(v) : "").tickSize(6).tickPadding(7));
styleAxis(cbAxis, 30);
cbAxis.select(".domain").remove();
var gTitle = label(1808, 1095, "", 33);
gTitle.append("tspan").text("log");
gTitle.append("tspan").text("2").attr("font-size", 22).attr("dy", 6);
gTitle.append("tspan").text("FC").attr("dy", -6);
</script>
</body>
</html>
